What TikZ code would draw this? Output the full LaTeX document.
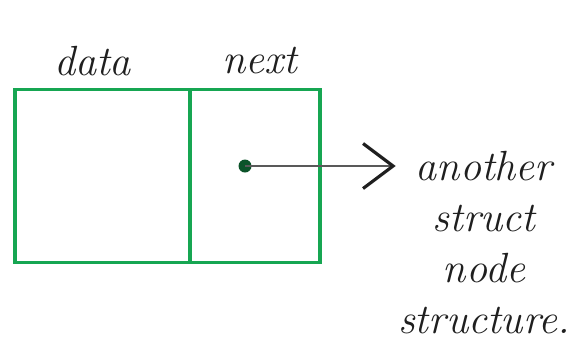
\documentclass[tikz,border=0pt]{standalone}
\usepackage{fontspec}
\usetikzlibrary{positioning, arrows.meta}
\definecolor{pen}{RGB}{22,166,82}
\definecolor{ink}{gray}{0.12}
\definecolor{shaft}{gray}{0.35}

\begin{document}
\begin{tikzpicture}[x=0.2mm, y=-0.2mm,
  font=\fontsize{24}{29}\selectfont\itshape,
  field/.style={draw=pen, line width=2.2pt, minimum height=34.6mm,
                inner sep=0pt, outer sep=0pt},
  lbl/.style={inner sep=0pt, text=ink},
]
\useasboundingbox (0,0) rectangle (571,349);
\node[field, minimum width=35mm] (datafield) at (102.5,176) {};
\node[field, minimum width=26mm, anchor=west] (nextfield) at (datafield.east) {};
\node[lbl, above=2.6mm of datafield, xshift=-2mm] (datalabel) {data};
\node[lbl, above=3mm of nextfield, xshift=1mm] (nextlabel) {next};

% pointer to the following node
\node[circle, fill=pen!50!black, inner sep=0pt, minimum size=2.6mm] (ptr) at (245,166) {};
\node[lbl, align=center, inner sep=0.4mm] (target) at (484,243)
  {another\\struct\\node\\structure.};
\draw[shaft, line width=1.5pt,
      -{Straight Barb[length=6mm, width=9mm, line width=1.8pt, ink]}]
  (ptr.center) -- (ptr -| target.west);
\end{tikzpicture}
\end{document}
